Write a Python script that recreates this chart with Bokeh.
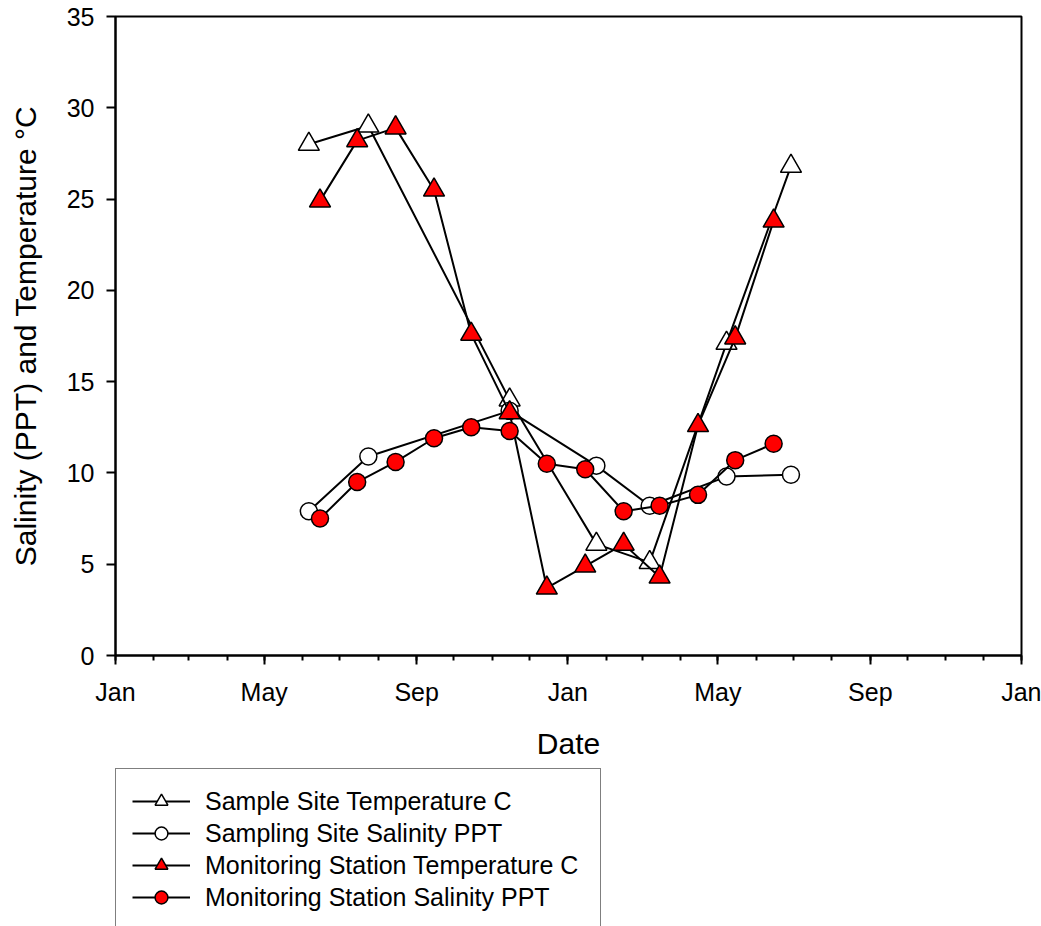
import pandas as pd
from bokeh.plotting import figure
from bokeh.layouts import column
from bokeh.models import Range1d, FixedTicker, DatetimeTickFormatter, Legend, LegendItem, ColumnDataSource
from bokeh.embed import file_html
from bokeh.resources import INLINE

# ---- data ----
sample_dates = ["2007-06-06", "2007-07-24", "2007-11-15", "2008-01-24", "2008-03-07", "2008-05-08", "2008-06-29"]
sample_temp = [28.0, 29.0, 14.0, 6.1, 5.1, 17.1, 26.8]
sample_sal = [7.9, 10.9, 13.4, 10.4, 8.2, 9.8, 9.9]

monitor_dates = ["2007-06-15", "2007-07-15", "2007-08-15", "2007-09-15", "2007-10-15", "2007-11-15",
                 "2007-12-15", "2008-01-15", "2008-02-15", "2008-03-15", "2008-04-15", "2008-05-15",
                 "2008-06-15"]
monitor_temp = [24.9, 28.2, 28.9, 25.5, 17.6, 13.3, 3.7, 4.9, 6.1, 4.3, 12.6, 17.4, 23.8]
monitor_sal = [7.5, 9.5, 10.6, 11.9, 12.5, 12.3, 10.5, 10.2, 7.9, 8.2, 8.8, 10.7, 11.6]

major_tick_dates = ["2007-01-01", "2007-05-01", "2007-09-01", "2008-01-01", "2008-05-01", "2008-09-01", "2009-01-01"]
y_ticks = [0, 5, 10, 15, 20, 25, 30, 35]

series_labels = ["Sample Site Temperature C", "Sampling Site Salinity PPT",
                 "Monitoring Station Temperature C", "Monitoring Station Salinity PPT"]

FONT = "Liberation Sans"

def ms(d):
    return pd.Timestamp(d).value / 1e6

p = figure(width=1041, height=768, x_axis_type="datetime",
           output_backend="svg", toolbar_location=None,
           x_range=Range1d(ms("2007-01-01"), ms("2009-01-01")),
           y_range=Range1d(0, 35),
           min_border_left=115, min_border_right=20, min_border_top=16, min_border_bottom=113)

p.xgrid.visible = False
p.ygrid.visible = False
p.outline_line_color = "black"
p.outline_line_width = 2
p.background_fill_color = "white"
p.border_fill_color = "white"

# axes
minor = [ms(d) for d in pd.date_range("2007-01-01", "2009-01-01", freq="MS")]
p.xaxis.ticker = FixedTicker(ticks=[ms(d) for d in major_tick_dates], minor_ticks=minor)
p.xaxis.formatter = DatetimeTickFormatter(days="%b", months="%b", years="%b")
p.yaxis.ticker = FixedTicker(ticks=y_ticks)

for ax in (p.xaxis[0], p.yaxis[0]):
    ax.axis_line_color = "black"
    ax.axis_line_width = 2
    ax.major_tick_line_color = "black"
    ax.major_tick_line_width = 2
    ax.minor_tick_line_color = "black"
    ax.minor_tick_line_width = 2
    ax.major_tick_in = 0
    ax.major_tick_out = 9
    ax.minor_tick_in = 0
    ax.major_label_text_font = FONT
    ax.major_label_text_font_size = "25px"
    ax.major_label_text_color = "black"
    ax.axis_label_text_font = FONT
    ax.axis_label_text_font_size = "30px"
    ax.axis_label_text_font_style = "normal"
    ax.axis_label_text_color = "black"

p.xaxis.minor_tick_out = 5
p.yaxis.minor_tick_out = 0
p.xaxis.major_label_standoff = 13
p.yaxis.major_label_standoff = 12
p.xaxis.axis_label = "Date"
p.yaxis.axis_label = "Salinity (PPT) and Temperature \u00b0C"
p.xaxis.axis_label_standoff = 18
p.yaxis.axis_label_standoff = 22

sd = pd.to_datetime(sample_dates)
md = pd.to_datetime(monitor_dates)

series = [
    (sd, sample_temp, "triangle", "white", 21),
    (sd, sample_sal, "circle", "white", 17),
    (md, monitor_temp, "triangle", "red", 21),
    (md, monitor_sal, "circle", "red", 17),
]

# legend panel below the chart (same styles, legend-only renderers with no visible data)
pl = figure(width=1041, height=158, output_backend="svg", toolbar_location=None,
            x_axis_location=None, y_axis_location=None,
            min_border_left=115, min_border_right=0, min_border_top=0, min_border_bottom=0,
            x_range=Range1d(0, 1), y_range=Range1d(0, 1))
pl.xgrid.visible = False
pl.ygrid.visible = False
pl.outline_line_color = None
pl.background_fill_color = "white"
pl.border_fill_color = "white"

items = []
for (dates, vals, marker, fill, size), label in zip(series, series_labels):
    src = ColumnDataSource(dict(x=dates, y=vals))
    p.line("x", "y", source=src, line_color="black", line_width=2)
    p.scatter("x", "y", source=src, marker=marker, size=size, fill_color=fill,
              line_color="black", line_width=1.5)
    blank = ColumnDataSource(dict(x=[float("nan")], y=[float("nan")]))
    l1 = pl.line("x", "y", source=blank, line_color="black", line_width=2)
    l2 = pl.scatter("x", "y", source=blank, marker=marker, size=size, fill_color=fill,
                    line_color="black", line_width=1.5)
    items.append(LegendItem(label=label, renderers=[l1, l2]))

legend = Legend(items=items, location="top_left",
                label_text_font=FONT, label_text_font_size="25px", label_text_color="black",
                glyph_width=58, glyph_height=32, label_height=20, spacing=0,
                label_standoff=15, label_width=379, padding=16, margin=0,
                border_line_color="black", border_line_width=1.5,
                background_fill_color="white", background_fill_alpha=1.0)
pl.add_layout(legend, "center")

layout = column(p, pl, spacing=0)
open("out.html", "w").write(file_html(layout, INLINE))
